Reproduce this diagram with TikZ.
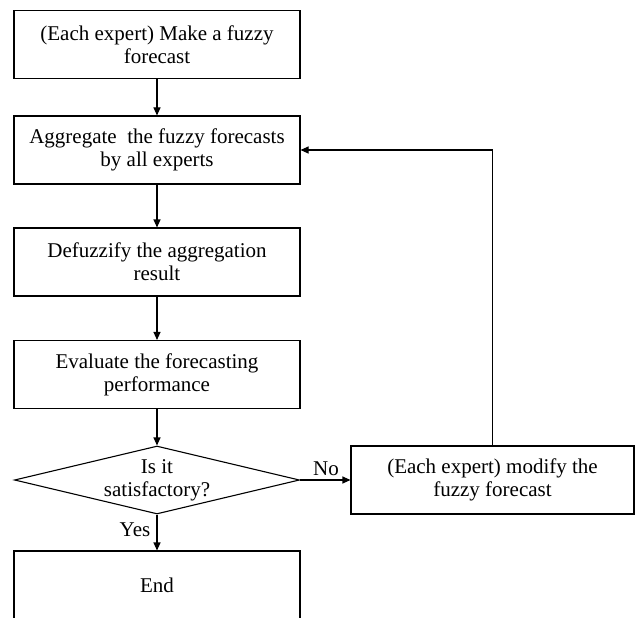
\documentclass[tikz,border=0pt]{standalone}
\usepackage{fontspec}
\setmainfont{Liberation Serif}
\usetikzlibrary{arrows.meta,shapes.geometric}
\begin{document}
\begin{tikzpicture}[x=1pt,y=-1pt,
  txt/.style={font=\fontsize{21}{23}\selectfont, align=center, inner sep=0pt},
  box/.style={txt, draw, line width=1.1pt, minimum width=286pt, minimum height=68pt},
  decision/.style={draw, diamond, line width=1.1pt, minimum width=285pt, minimum height=68pt, inner sep=0pt},
  arr/.style={-{Triangle[length=8pt,width=7pt]}, line width=1.1pt}
]
\useasboundingbox (0,0) rectangle (635,618);
\node[box] (b1) at (157,44.5) {(Each expert) Make a fuzzy\\forecast};
\node[box] (b2) at (157,150) {Aggregate\ \ the fuzzy forecasts\\by all experts};
\node[box] (b3) at (157,262) {Defuzzify the aggregation\\result};
\node[box] (b4) at (157,374.5) {Evaluate the forecasting\\performance};
\node[decision] (d) at (157,480) {};
\node[txt] (dt) at (d.center) {Is it\\satisfactory?};
\node[box, minimum width=283pt] (b6) at (492.5,480) {(Each expert) modify the\\fuzzy forecast};
\node[box] (b7) at (157,585) {End};
\draw[arr] (b1) -- (b2);
\draw[arr] (b2) -- (b3);
\draw[arr] (b3) -- (b4);
\draw[arr] (b4) -- (d.north);
\draw[arr] (d.east) -- (b6.west);
\draw[arr] (d.south) -- (b7.north);
\draw[arr] (b6.north) |- (b2.east);
\node[txt] (no) at (326,469) {No};
\node[txt] (yes) at (135,530) {Yes};
\end{tikzpicture}
\end{document}
